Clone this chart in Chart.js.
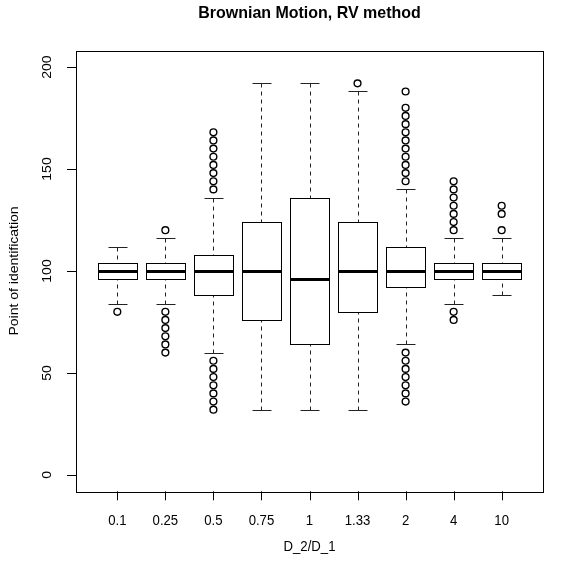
<!DOCTYPE html>
<html>
<head>
<meta charset="utf-8">
<script src="https://cdn.jsdelivr.net/npm/chart.js@4/dist/chart.umd.min.js"></script>
<style>
  html, body { margin: 0; padding: 0; background: #fff; overflow: hidden; }
</style>
</head>
<body>
<canvas id="box" width="568" height="562"></canvas>
<script>
// ratios D_2/D_1 and the box statistics
var groups = ['0.1', '0.25', '0.5', '0.75', '1', '1.33', '2', '4', '10'];
var lowWhisker  = [84, 84, 60, 32, 32, 32, 64, 84, 88];
var lowerQuart  = [96, 96, 88, 76, 64, 80, 92, 96, 96];
var medians     = [100, 100, 100, 100, 96, 100, 100, 100, 100];
var upperQuart  = [104, 104, 108, 124, 136, 124, 112, 104, 104];
var highWhisker = [112, 116, 136, 192, 192, 188, 140, 116, 116];
var outliers = [
  [80],
  [120, 80, 76, 72, 68, 64, 60],
  [140, 144, 148, 152, 156, 160, 164, 168, 56, 52, 48, 44, 40, 36, 32],
  [],
  [],
  [192],
  [144, 148, 152, 156, 160, 164, 168, 172, 176, 180, 188, 60, 56, 52, 48, 44, 40, 36],
  [120, 124, 128, 132, 136, 140, 144, 80, 76],
  [120, 128, 132]
];
var yTicks = [0, 50, 100, 150, 200];

var FONT = '"Liberation Sans", Arial, Helvetica, sans-serif';
var SQUEEZE = 0.94; // the picture is a little narrower than tall, text too

var pts = [];
outliers.forEach(function (list, i) {
  list.forEach(function (v) { pts.push({ x: i + 1, y: v }); });
});

function crisp(v) { return Math.round(v) + 0.5; }

function text(ctx, s, x, y, rot) {
  ctx.save();
  ctx.translate(x, y);
  ctx.scale(SQUEEZE, 1);
  if (rot) ctx.rotate(rot);
  ctx.fillText(s, 0, 0);
  ctx.restore();
}

var boxPlugin = {
  id: 'boxPlugin',
  beforeDatasetsDraw: function (chart) {
    var ctx = chart.ctx, xs = chart.scales.x, ys = chart.scales.y, a = chart.chartArea;
    ctx.save();
    ctx.strokeStyle = '#000';
    ctx.lineWidth = 1;

    // frame
    ctx.strokeRect(crisp(a.left), crisp(a.top), Math.round(a.right - a.left), Math.round(a.bottom - a.top));

    for (var i = 0; i < groups.length; i++) {
      var cx = crisp(xs.getPixelForValue(i + 1));
      var bl = crisp(xs.getPixelForValue(i + 1 - 0.4));
      var br = crisp(xs.getPixelForValue(i + 1 + 0.4));
      var sl = crisp(xs.getPixelForValue(i + 1 - 0.2));
      var sr = crisp(xs.getPixelForValue(i + 1 + 0.2));
      var yLo = crisp(ys.getPixelForValue(lowWhisker[i]));
      var yQ1 = crisp(ys.getPixelForValue(lowerQuart[i]));
      var yMd = crisp(ys.getPixelForValue(medians[i]));
      var yQ3 = crisp(ys.getPixelForValue(upperQuart[i]));
      var yHi = crisp(ys.getPixelForValue(highWhisker[i]));

      // whiskers (dashed), from staple towards the box
      ctx.setLineDash([4, 4]);
      ctx.strokeStyle = '#222';
      ctx.beginPath();
      ctx.moveTo(cx, yHi); ctx.lineTo(cx, yQ3);
      ctx.moveTo(cx, yLo); ctx.lineTo(cx, yQ1);
      ctx.stroke();
      ctx.setLineDash([]);

      // staples
      ctx.beginPath();
      ctx.moveTo(sl, yHi); ctx.lineTo(sr, yHi);
      ctx.moveTo(sl, yLo); ctx.lineTo(sr, yLo);
      ctx.stroke();

      // box
      ctx.strokeStyle = '#000';
      ctx.strokeRect(bl, yQ3, br - bl, yQ1 - yQ3);

      // median
      ctx.lineWidth = 3;
      ctx.beginPath();
      ctx.moveTo(bl, yMd); ctx.lineTo(br, yMd);
      ctx.stroke();
      ctx.lineWidth = 1;
    }
    ctx.restore();
  },
  afterDraw: function (chart) {
    var ctx = chart.ctx, xs = chart.scales.x, ys = chart.scales.y, a = chart.chartArea;
    var midX = (a.left + a.right) / 2, midY = (a.top + a.bottom) / 2;
    ctx.save();
    ctx.strokeStyle = '#000';
    ctx.fillStyle = '#000';
    ctx.lineWidth = 1;

    // tick marks
    ctx.beginPath();
    groups.forEach(function (g, i) {
      var x = crisp(xs.getPixelForValue(i + 1));
      ctx.moveTo(x, a.bottom); ctx.lineTo(x, a.bottom + 9);
    });
    yTicks.forEach(function (t) {
      var y = crisp(ys.getPixelForValue(t));
      ctx.moveTo(a.left, y); ctx.lineTo(a.left - 9, y);
    });
    ctx.stroke();

    ctx.font = '14px ' + FONT;
    ctx.textAlign = 'center';
    ctx.textBaseline = 'middle';
    groups.forEach(function (g, i) {
      text(ctx, g, xs.getPixelForValue(i + 1), a.bottom + 30);
    });
    yTicks.forEach(function (t) {
      text(ctx, String(t), a.left - 29, ys.getPixelForValue(t), -Math.PI / 2);
    });

    // axis titles
    text(ctx, 'D_2/D_1', midX, a.bottom + 56);
    text(ctx, 'Point of identification', a.left - 62, midY, -Math.PI / 2);

    // main title
    ctx.font = 'bold 17px ' + FONT;
    text(ctx, 'Brownian Motion, RV method', midX, 13);
    ctx.restore();
  }
};

new Chart(document.getElementById('box'), {
  type: 'scatter',
  data: {
    datasets: [{
      label: 'outliers',
      data: pts,
      pointStyle: 'circle',
      pointRadius: 3.4,
      pointHoverRadius: 3.4,
      borderWidth: 1.4,
      borderColor: '#000',
      backgroundColor: 'rgba(0,0,0,0)'
    }]
  },
  options: {
    responsive: false,
    animation: false,
    events: [],
    layout: { padding: { left: 76, right: 25, top: 50.7, bottom: 70.7 } },
    plugins: { legend: { display: false }, title: { display: false }, tooltip: { enabled: false } },
    scales: {
      x: { type: 'linear', min: 0.14, max: 9.86, display: false },
      y: { type: 'linear', min: -8, max: 208, display: false }
    }
  },
  plugins: [boxPlugin]
});
</script>
</body>
</html>
